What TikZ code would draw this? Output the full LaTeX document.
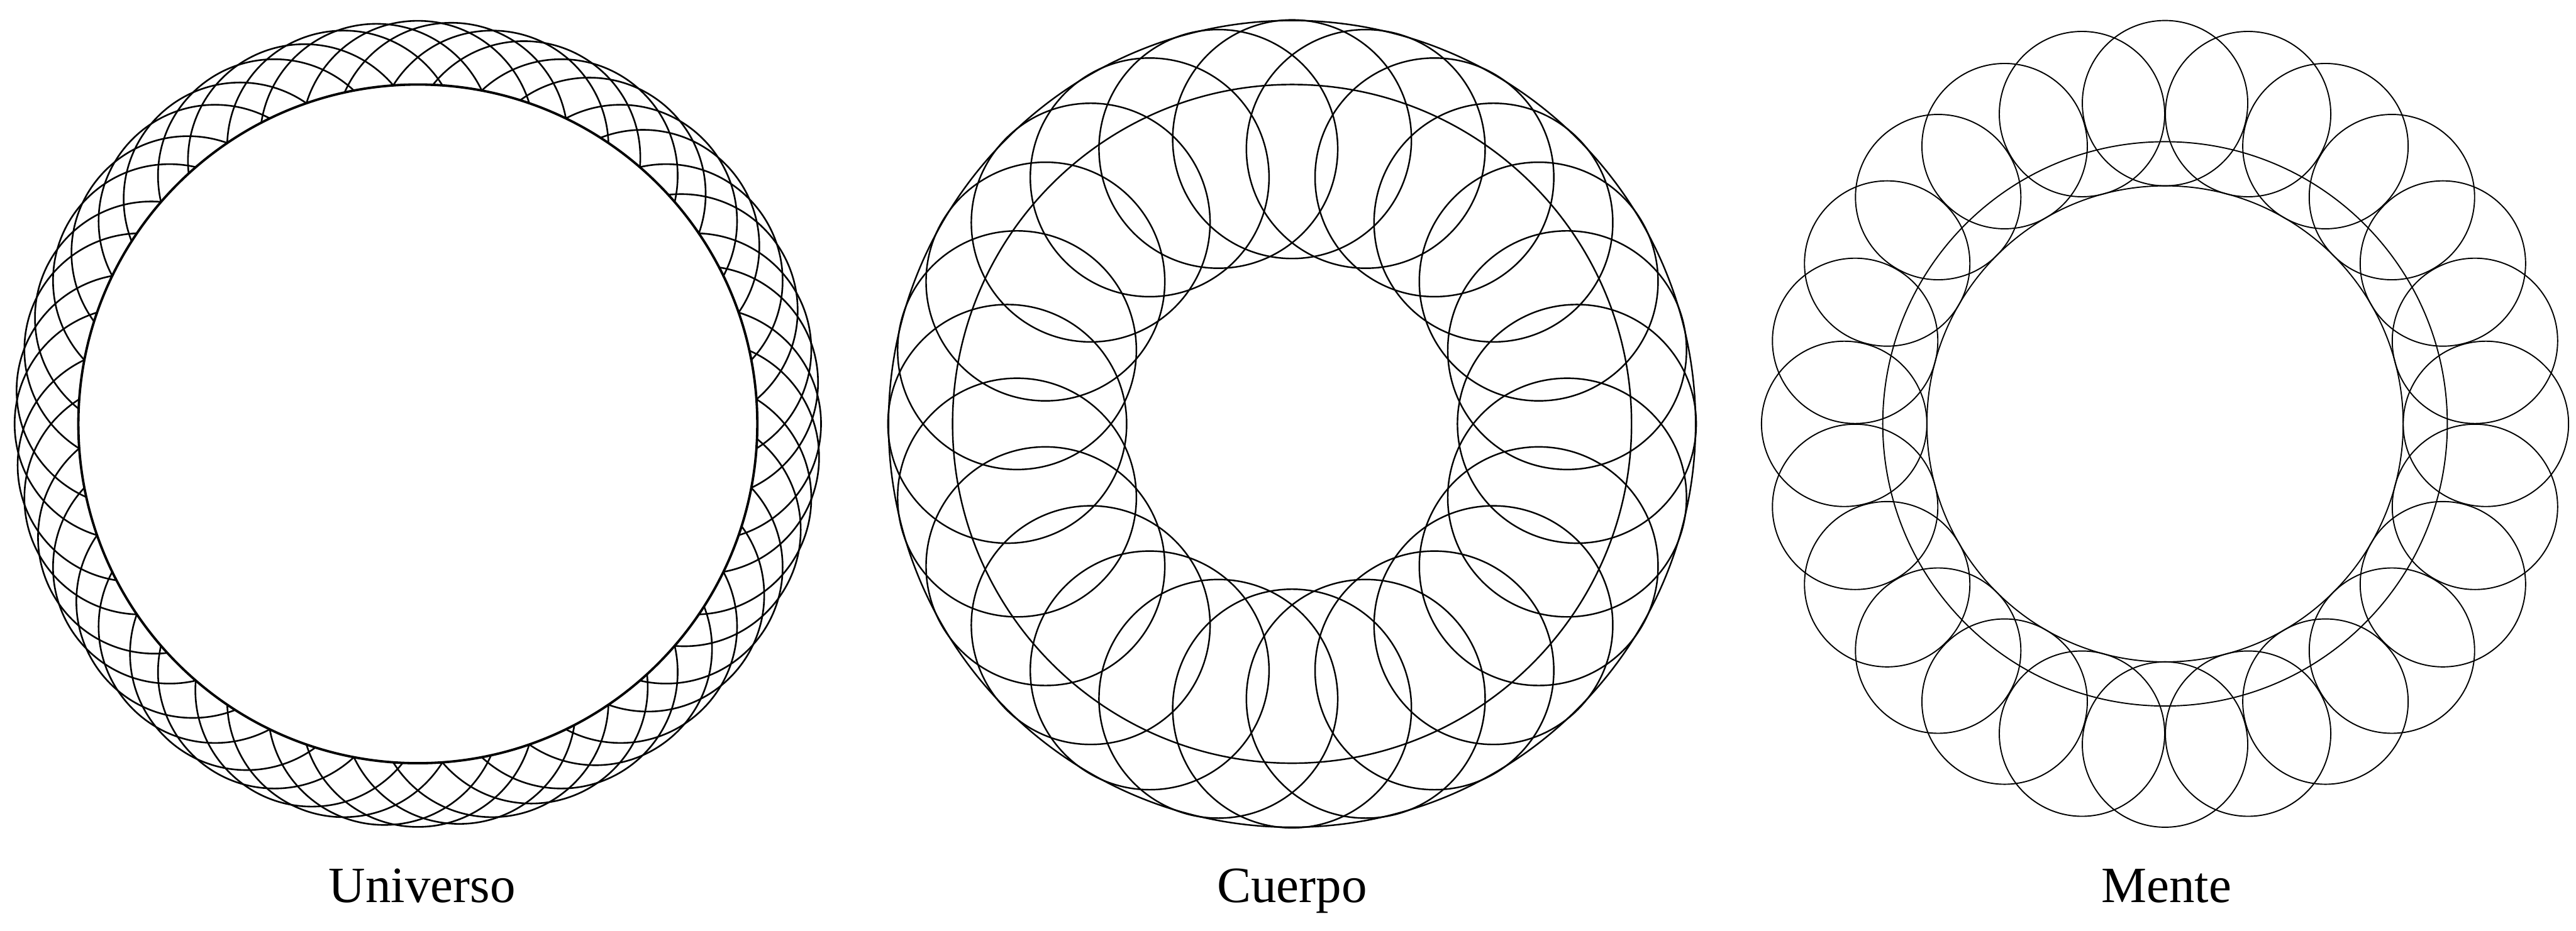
\documentclass[tikz,border=0pt]{standalone}
\usepackage{fontspec}
\setmainfont{Liberation Serif}
\tikzset{
  ringline/.style={draw=black, line width=0.75pt},
  bodyline/.style={draw=black, line width=0.7pt},
  mindline/.style={draw=black, line width=0.55pt},
  maskdisc/.style={fill=white, draw=black, line width=1.1pt},
  caption/.style={font=\fontsize{23.3}{28}\selectfont, inner sep=0pt, anchor=base}
}
\begin{document}
\begin{tikzpicture}
  \useasboundingbox (0,0) rectangle (41.43,14.97);
  \coordinate (unicentre) at (6.72,8.15);
  \coordinate (bodycentre) at (20.78,8.15);
  \coordinate (mindcentre) at (34.82,8.15);

  % Universo: two rings of 24 circles, inner half hidden under a white disc
  \foreach \a in {0,15,...,345} {
    \draw[ringline] (unicentre) ++(\a:4.612) circle (1.873);
    \draw[ringline] (unicentre) ++(\a+8.3:4.612) circle (1.873);
  }
  \draw[maskdisc] (unicentre) circle (5.46);
  \node[caption] (unilabel) at (6.79,0.45) {Universo};

  % Cuerpo
  \foreach \a in {0,15,...,345}
    \draw[bodyline] (bodycentre) ++(\a:4.58) circle (1.92);
  \draw[bodyline] (bodycentre) circle (6.49);
  \draw[bodyline] (bodycentre) circle (5.46);
  \node[caption] (bodylabel) at (20.78,0.45) {Cuerpo};

  % Mente
  \foreach \a in {0,15,...,345}
    \draw[mindline] (mindcentre) ++(\a:5.16) circle (1.33);
  \draw[mindline] (mindcentre) circle (4.54);
  \draw[mindline] (mindcentre) circle (3.83);
  \node[caption] (mindlabel) at (34.84,0.45) {Mente};
\end{tikzpicture}
\end{document}
